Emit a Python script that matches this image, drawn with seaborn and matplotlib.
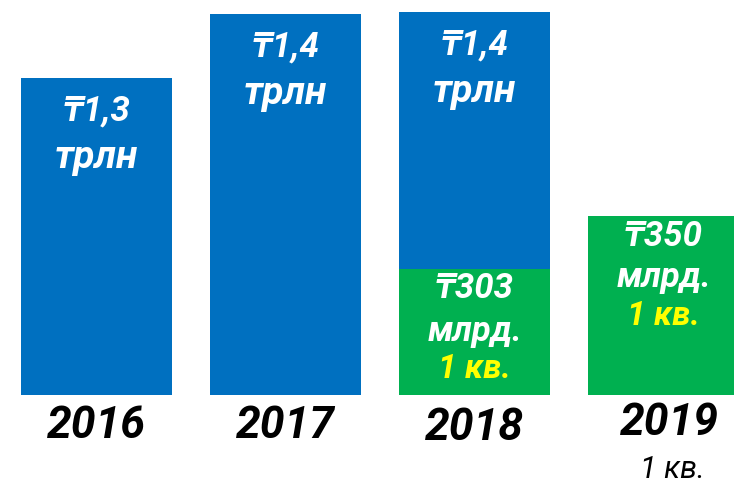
import matplotlib
matplotlib.use("Agg")
import matplotlib.pyplot as plt
import seaborn as sns

# bar heights (arbitrary units, bars are not to scale)
years = ["2016", "2017", "2018", "2019"]
blue_heights = [317, 381, 383, 0]
green_heights = [0, 0, 126, 179]

# labels written on the bars
blue_amounts = ["₸1,3", "₸1,4", "₸1,4", ""]
blue_units = ["трлн", "трлн", "трлн", ""]
green_amounts = ["", "", "₸303", "₸350"]
green_units = ["", "", "млрд.", "млрд."]
green_period = ["", "", "1 кв.", "1 кв."]
year_notes = ["", "", "", "1 кв."]

BLUE = "#0070C0"
GREEN = "#00B050"
YELLOW = "#FFFF00"

sns.set_theme(style="white")
fonts = ["Roboto", "DejaVu Sans"]
plt.rcParams["font.family"] = fonts

fig = plt.figure(figsize=(7.34, 4.83), dpi=100)
ax = fig.add_axes([0, 0, 1, 1])

sns.barplot(x=years, y=blue_heights, color=BLUE, saturation=1, width=0.8,
            errorbar=None, linewidth=0, ax=ax)
sns.barplot(x=years, y=green_heights, color=GREEN, saturation=1, width=0.8,
            errorbar=None, linewidth=0, ax=ax)

ax.set_xlim(-0.511, 3.373)
ax.set_ylim(-88, 395)
ax.axis("off")

bold = dict(ha="center", va="center", fontweight="bold", style="italic")

for i in range(len(years)):
    if blue_amounts[i]:
        top = blue_heights[i]
        ax.text(i, top - 33, blue_amounts[i], color="white", fontsize=25, **bold)
        ax.text(i, top - 80, blue_units[i], color="white", fontsize=28, **bold)
    if green_amounts[i]:
        top = green_heights[i]
        ax.text(i, top - 20, green_amounts[i], color="white", fontsize=25, **bold)
        ax.text(i, top - 62, green_units[i], color="white", fontsize=25, **bold)
        ax.text(i, top - 100, green_period[i], color=YELLOW, fontsize=24, **bold)

    ax.text(i + (0.03 if year_notes[i] else 0), -31 - (2 if i == 2 else 0) + (3 if year_notes[i] else 0),
            years[i], color="black", fontsize=32, **bold)
    if year_notes[i]:
        ax.text(i + 0.045, -75, year_notes[i], color="black", fontsize=22,
                ha="center", va="center", style="italic")

fig.savefig("out.png", dpi=100)
